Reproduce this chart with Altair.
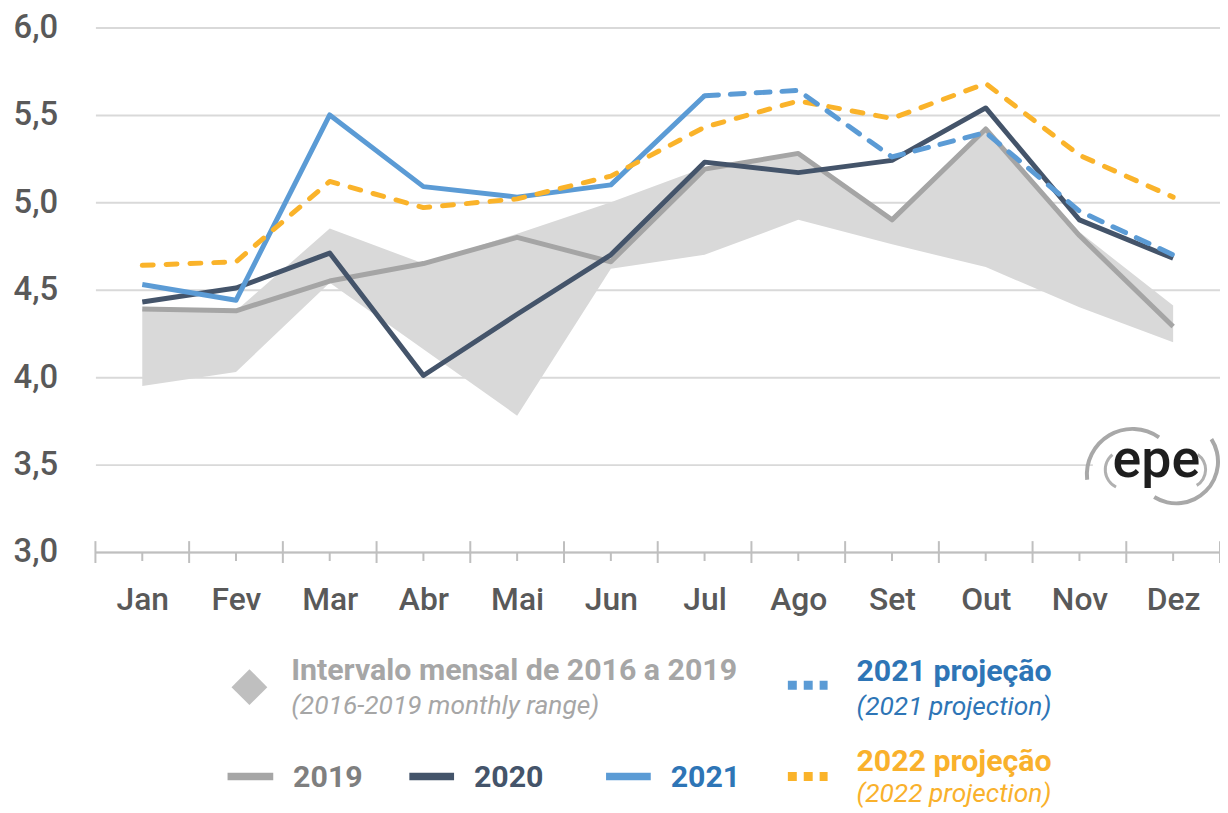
import altair as alt
import pandas as pd

months = ["Jan", "Fev", "Mar", "Abr", "Mai", "Jun", "Jul", "Ago", "Set", "Out", "Nov", "Dez"]
s2019 = [4.39, 4.38, 4.55, 4.65, 4.80, 4.66, 5.19, 5.28, 4.90, 5.42, 4.81, 4.29]
s2020 = [4.43, 4.51, 4.71, 4.01, 4.36, 4.70, 5.23, 5.17, 5.24, 5.54, 4.90, 4.68]
s2021 = [4.53, 4.44, 5.50, 5.09, 5.03, 5.10, 5.61, None, None, None, None, None]
s2021p = [None, None, None, None, None, None, 5.61, 5.64, 5.26, 5.40, 4.95, 4.70]
s2022p = [4.64, 4.66, 5.12, 4.97, 5.02, 5.15, 5.43, 5.58, 5.48, 5.68, 5.27, 5.03]
band_hi = [4.39, 4.38, 4.85, 4.65, 4.82, 5.00, 5.20, 5.29, 4.90, 5.42, 4.83, 4.41]
band_lo = [3.95, 4.03, 4.54, 4.16, 3.78, 4.62, 4.70, 4.90, 4.76, 4.63, 4.40, 4.20]
y_ticks = [3.0, 3.5, 4.0, 4.5, 5.0, 5.5, 6.0]

W, H = 1132, 528
FONT = "Roboto"

df = pd.DataFrame({
    "month": months, "s2019": s2019, "s2020": s2020, "s2021": s2021,
    "s2021p": s2021p, "s2022p": s2022p, "hi": band_hi, "lo": band_lo,
})

xscale = alt.Scale(type="point", padding=0.5)
xaxis = alt.Axis(title=None, labelFont=FONT, labelFontSize=32, labelFontWeight=500,
                 labelColor="#595959", labelPadding=33, ticks=False, tickSize=0,
                 domainColor="#bfbfbf", domainWidth=2, grid=False, labelAngle=0)
yscale = alt.Scale(domain=[3, 6], nice=False, zero=False)
yaxis = alt.Axis(title=None, values=y_ticks,
                 labelExpr="replace(format(datum.value, '.1f'), '.', ',')",
                 labelFont=FONT, labelFontSize=33, labelFontWeight=500, labelColor="#595959",
                 labelPadding=38, ticks=False, tickSize=0, domain=False,
                 grid=True, gridColor="#d9d9d9", gridWidth=2)

base = alt.Chart(df).encode(x=alt.X("month:N", sort=months, scale=xscale, axis=xaxis))

area = base.mark_area(color="#d9d9d9", opacity=1, interpolate="linear").encode(
    y=alt.Y("lo:Q", scale=yscale, axis=yaxis), y2="hi:Q")
l2019 = base.mark_line(color="#a5a5a5", strokeWidth=5, strokeJoin="round").encode(y="s2019:Q")
l2020 = base.mark_line(color="#44546a", strokeWidth=5, strokeJoin="round").encode(y="s2020:Q")
l2021 = base.mark_line(color="#5b9bd5", strokeWidth=5, strokeJoin="round").encode(y="s2021:Q")
l2022 = base.mark_line(color="#fab32a", strokeWidth=5, strokeDash=[11, 13],
                       strokeCap="round", strokeJoin="round").encode(y="s2022p:Q")
l2021p = base.mark_line(color="#5b9bd5", strokeWidth=5, strokeDash=[14, 12],
                        strokeCap="round", strokeJoin="round").encode(y="s2021p:Q")

# axis tick marks (category boundaries tall, centers short)
tick_df = pd.DataFrame({"month": months})
step = W / len(months)
tick_big = alt.Chart(tick_df).mark_rule(color="#bfbfbf", strokeWidth=2, xOffset=-step / 2).encode(
    x=alt.X("month:N", sort=months, scale=xscale), y=alt.value(H - 11), y2=alt.value(H + 11))
tick_end = alt.Chart(pd.DataFrame({"month": [months[-1]]})).mark_rule(
    color="#bfbfbf", strokeWidth=2, xOffset=step / 2).encode(
    x=alt.X("month:N", sort=months, scale=xscale), y=alt.value(H - 11), y2=alt.value(H + 11))
tick_small = alt.Chart(tick_df).mark_rule(color="#bfbfbf", strokeWidth=2).encode(
    x=alt.X("month:N", sort=months, scale=xscale), y=alt.value(H), y2=alt.value(H + 9))

one = pd.DataFrame({"k": [0]})


def txt(s, x, y, color, size=30.5, weight="bold", style="normal"):
    return alt.Chart(one).mark_text(text=s, font=FONT, fontSize=size, fontWeight=weight,
                                    fontStyle=style, color=color, align="left",
                                    baseline="middle").encode(x=alt.value(x), y=alt.value(y))


def seg(x1, x2, y, color, width=7.5, dash=None):
    kw = dict(color=color, strokeWidth=width, strokeCap="butt")
    if dash:
        kw["strokeDash"] = dash
    return alt.Chart(one).mark_rule(**kw).encode(x=alt.value(x1), x2=alt.value(x2), y=alt.value(y))


legend = [
    alt.Chart(one).mark_point(shape="diamond", filled=True, size=1300, color="#bfbfbf", opacity=1).encode(
        x=alt.value(155), y=alt.value(664)),
    txt("Intervalo mensal de 2016 a 2019", 197, 648, "#a6a6a6"),
    txt("(2016-2019 monthly range)", 197, 683, "#a6a6a6", size=26.5, weight="normal", style="italic"),
    seg(133, 179, 754, "#a6a6a6"),
    txt("2019", 199, 755, "#7f7f7f"),
    seg(316, 361, 754, "#44546a"),
    txt("2020", 381, 755, "#44546a"),
    seg(514, 559, 754, "#5b9bd5"),
    txt("2021", 579, 755, "#2e75b6"),
    seg(697, 737, 662, "#5b9bd5", width=9, dash=[9, 7]),
    txt("2021 projeção", 766, 649, "#2e75b6"),
    txt("(2021 projection)", 766, 684, "#2e75b6", size=26.5, weight="normal", style="italic"),
    seg(697, 737, 754, "#fab32a", width=9, dash=[9, 7]),
    txt("2022 projeção", 766, 739, "#f9b12c"),
    txt("(2022 projection)", 766, 772, "#f9b12c", size=26.5, weight="normal", style="italic"),
]

# epe logo
logo = [
    alt.Chart(one).mark_rect(color="white").encode(
        x=alt.value(1004), x2=alt.value(1132), y=alt.value(418), y2=alt.value(462)),
    alt.Chart(one).mark_arc(radius=44, radius2=48, theta=4.6, theta2=6.9, color="#a8a8a8").encode(
        x=alt.value(1044), y=alt.value(450)),
    alt.Chart(one).mark_arc(radius=18, radius2=21, theta=3.6, theta2=5.6, color="#b0b0b0").encode(
        x=alt.value(1036), y=alt.value(445)),
    alt.Chart(one).mark_arc(radius=40, radius2=44, theta=1.0, theta2=3.7, color="#a8a8a8").encode(
        x=alt.value(1088), y=alt.value(437)),
    alt.Chart(one).mark_arc(radius=17, radius2=20, theta=0.6, theta2=2.6, color="#b0b0b0").encode(
        x=alt.value(1099), y=alt.value(445)),
    alt.Chart(one).mark_text(text="epe", font=FONT, fontSize=54, fontWeight=500, color="#1e1e1e",
                             align="center", baseline="alphabetic").encode(
        x=alt.value(1068), y=alt.value(452)),
]

chart = alt.layer(
    area, l2019, l2020, l2021, l2022, l2021p, tick_big, tick_end, tick_small, *legend, *logo
).properties(
    width=W, height=H,
    autosize=alt.AutoSizeParams(type="none"),
    padding={"left": 88, "top": 17, "right": 0, "bottom": 257},
    background="white",
).configure_view(stroke=None)

chart.save("out.html", embed_options={"renderer": "svg", "actions": False})
